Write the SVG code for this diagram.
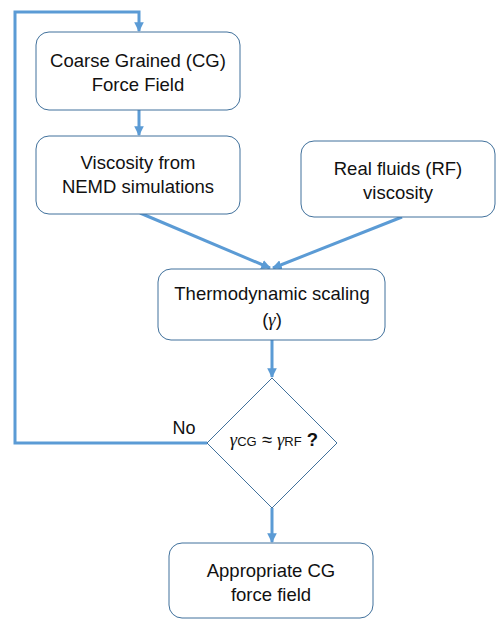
<svg xmlns="http://www.w3.org/2000/svg" width="496" height="619" viewBox="0 0 496 619">
<style>
.box{fill:#fff;stroke:#41719C;stroke-width:1}
.t{font-family:"Liberation Sans","Open Sans",sans-serif;font-size:18.5px;fill:#111;text-anchor:middle}
.c{fill:none;stroke:#5B9BD5;stroke-width:3}
.g{font-family:"Liberation Serif",serif;font-style:italic}
</style>
<defs>
<marker id="ah" viewBox="0 0 10 10" refX="9" refY="5" markerWidth="3.2" markerHeight="3.2" orient="auto" markerUnits="strokeWidth">
<path d="M0,0 L10,5 L0,10 z" fill="#5B9BD5"/>
</marker>
</defs>
<rect width="496" height="619" fill="#fff"/>
<g id="connectors">
<path class="c" d="M207,443 H15 V12 H139 V31" marker-end="url(#ah)"/>
<path class="c" d="M139,110 V135" marker-end="url(#ah)"/>
<path class="c" d="M140,213 L270,268" marker-end="url(#ah)"/>
<path class="c" d="M402,217 L273,268" marker-end="url(#ah)"/>
<path class="c" d="M272,340 V377" marker-end="url(#ah)"/>
<path class="c" d="M272,508 V542" marker-end="url(#ah)"/>
<text class="t" x="184" y="434" style="font-size:18px">No</text>
</g>
<g id="cg">
<rect class="box" x="36" y="32" width="204" height="78" rx="13"/>
<text class="t" x="138" y="67">Coarse Grained (CG)</text>
<text class="t" x="138" y="91">Force Field</text>
</g>
<g id="nemd">
<rect class="box" x="36" y="136" width="204" height="78" rx="13"/>
<text class="t" x="138" y="169">Viscosity from</text>
<text class="t" x="138" y="193">NEMD simulations</text>
</g>
<g id="rf">
<rect class="box" x="301" y="141" width="194" height="76" rx="13"/>
<text class="t" x="398" y="175">Real fluids (RF)</text>
<text class="t" x="398" y="199">viscosity</text>
</g>
<g id="thermo">
<rect class="box" x="158" y="269" width="227" height="71" rx="13"/>
<text class="t" x="272" y="300">Thermodynamic scaling</text>
<text class="t" x="272" y="326">(<tspan class="g">γ</tspan>)</text>
</g>
<g id="decision">
<path class="box" d="M272,378 L337,443 L272,508 L207,443 Z"/>
<text class="t" x="274" y="446"><tspan class="g">γ</tspan><tspan font-size="13">CG</tspan> ≈ <tspan class="g">γ</tspan><tspan font-size="13">RF</tspan> <tspan font-weight="bold">?</tspan></text>
</g>
<g id="final">
<rect class="box" x="169" y="543" width="204" height="75" rx="13"/>
<text class="t" x="271" y="577">Appropriate CG</text>
<text class="t" x="271" y="601">force field</text>
</g>
</svg>
